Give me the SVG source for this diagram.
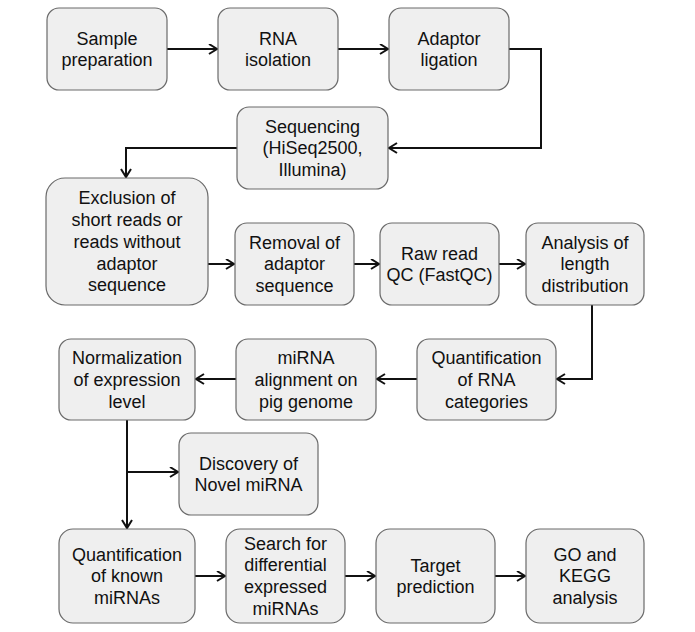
<svg xmlns="http://www.w3.org/2000/svg" width="695" height="632" viewBox="0 0 695 632">
<defs>
<style>
.box{fill:#efefef;stroke:#6a6a6a;stroke-width:1.2}
.t{font-family:"Liberation Sans",Arial,sans-serif;font-size:18px;fill:#111;text-anchor:middle}
.c{fill:none;stroke:#111;stroke-width:2}
</style>
<marker id="a" markerUnits="userSpaceOnUse" markerWidth="12" markerHeight="12" refX="9" refY="5.5" orient="auto">
<path d="M1,0.5 L9,5.5 L1,10.5" fill="none" stroke="#111" stroke-width="2"/>
</marker>
</defs>
<rect width="695" height="632" fill="#fff"/>
<g id="connectors">
<path class="c" d="M167,49 H217" marker-end="url(#a)"/>
<path class="c" d="M338,49 H388" marker-end="url(#a)"/>
<path class="c" d="M509,49 H541 V148 H389" marker-end="url(#a)"/>
<path class="c" d="M237,148 H126 V177" marker-end="url(#a)"/>
<path class="c" d="M208,264 H234" marker-end="url(#a)"/>
<path class="c" d="M354,264 H379" marker-end="url(#a)"/>
<path class="c" d="M499,264 H525" marker-end="url(#a)"/>
<path class="c" d="M592,305 V379 H557" marker-end="url(#a)"/>
<path class="c" d="M417,379 H377" marker-end="url(#a)"/>
<path class="c" d="M236,379 H196" marker-end="url(#a)"/>
<path class="c" d="M127,420 V528" marker-end="url(#a)"/>
<path class="c" d="M127,472 H178" marker-end="url(#a)"/>
<path class="c" d="M195,576 H225" marker-end="url(#a)"/>
<path class="c" d="M345,576 H375" marker-end="url(#a)"/>
<path class="c" d="M495,576 H525" marker-end="url(#a)"/>
</g>
<g id="sample"><rect class="box" x="47" y="8" width="120" height="82" rx="12"/><text class="t" x="107" y="44.5">Sample<tspan x="107" dy="21.7">preparation</tspan></text></g>
<g id="rna"><rect class="box" x="218" y="8" width="120" height="82" rx="12"/><text class="t" x="278" y="44.5">RNA<tspan x="278" dy="21.7">isolation</tspan></text></g>
<g id="adaptor"><rect class="box" x="389" y="8" width="120" height="82" rx="12"/><text class="t" x="449" y="44.5">Adaptor<tspan x="449" dy="21.7">ligation</tspan></text></g>
<g id="sequencing"><rect class="box" x="237" y="107" width="151" height="82" rx="12"/><text class="t" x="312.5" y="132.6">Sequencing<tspan x="312.5" dy="21.7">(HiSeq2500,</tspan><tspan x="312.5" dy="21.7">Illumina)</tspan></text></g>
<g id="exclusion"><rect class="box" x="46" y="178" width="162" height="127" rx="19"/><text class="t" x="127" y="204.4">Exclusion of<tspan x="127" dy="21.7">short reads or</tspan><tspan x="127" dy="21.7">reads without</tspan><tspan x="127" dy="21.7">adaptor</tspan><tspan x="127" dy="21.7">sequence</tspan></text></g>
<g id="removal"><rect class="box" x="235" y="223" width="119" height="82" rx="12"/><text class="t" x="294.5" y="248.6">Removal of<tspan x="294.5" dy="21.7">adaptor</tspan><tspan x="294.5" dy="21.7">sequence</tspan></text></g>
<g id="rawread"><rect class="box" x="380" y="223" width="119" height="82" rx="12"/><text class="t" x="439.5" y="259.5">Raw read<tspan x="439.5" dy="21.7">QC (FastQC)</tspan></text></g>
<g id="analysis"><rect class="box" x="526" y="223" width="118" height="82" rx="12"/><text class="t" x="585" y="248.6">Analysis of<tspan x="585" dy="21.7">length</tspan><tspan x="585" dy="21.7">distribution</tspan></text></g>
<g id="quantrna"><rect class="box" x="417" y="339" width="139" height="81" rx="12"/><text class="t" x="486.5" y="364.1">Quantification<tspan x="486.5" dy="21.7">of RNA</tspan><tspan x="486.5" dy="21.7">categories</tspan></text></g>
<g id="mirna"><rect class="box" x="236" y="339" width="140" height="81" rx="12"/><text class="t" x="306" y="364.1">miRNA<tspan x="306" dy="21.7">alignment on</tspan><tspan x="306" dy="21.7">pig genome</tspan></text></g>
<g id="normalization"><rect class="box" x="59" y="339" width="136" height="81" rx="12"/><text class="t" x="127" y="364.1">Normalization<tspan x="127" dy="21.7">of expression</tspan><tspan x="127" dy="21.7">level</tspan></text></g>
<g id="discovery"><rect class="box" x="179" y="433" width="139" height="82" rx="12"/><text class="t" x="248.5" y="469.5">Discovery of<tspan x="248.5" dy="21.7">Novel miRNA</tspan></text></g>
<g id="quantknown"><rect class="box" x="59" y="529" width="136" height="94" rx="14"/><text class="t" x="127" y="560.6">Quantification<tspan x="127" dy="21.7">of known</tspan><tspan x="127" dy="21.7">miRNAs</tspan></text></g>
<g id="search"><rect class="box" x="226" y="529" width="119" height="94" rx="14"/><text class="t" x="285.5" y="549.7">Search for<tspan x="285.5" dy="21.7">differential</tspan><tspan x="285.5" dy="21.7">expressed</tspan><tspan x="285.5" dy="21.7">miRNAs</tspan></text></g>
<g id="target"><rect class="box" x="376" y="529" width="119" height="94" rx="14"/><text class="t" x="435.5" y="571.5">Target<tspan x="435.5" dy="21.7">prediction</tspan></text></g>
<g id="go"><rect class="box" x="526" y="529" width="118" height="94" rx="14"/><text class="t" x="585" y="560.6">GO and<tspan x="585" dy="21.7">KEGG</tspan><tspan x="585" dy="21.7">analysis</tspan></text></g>
</svg>
